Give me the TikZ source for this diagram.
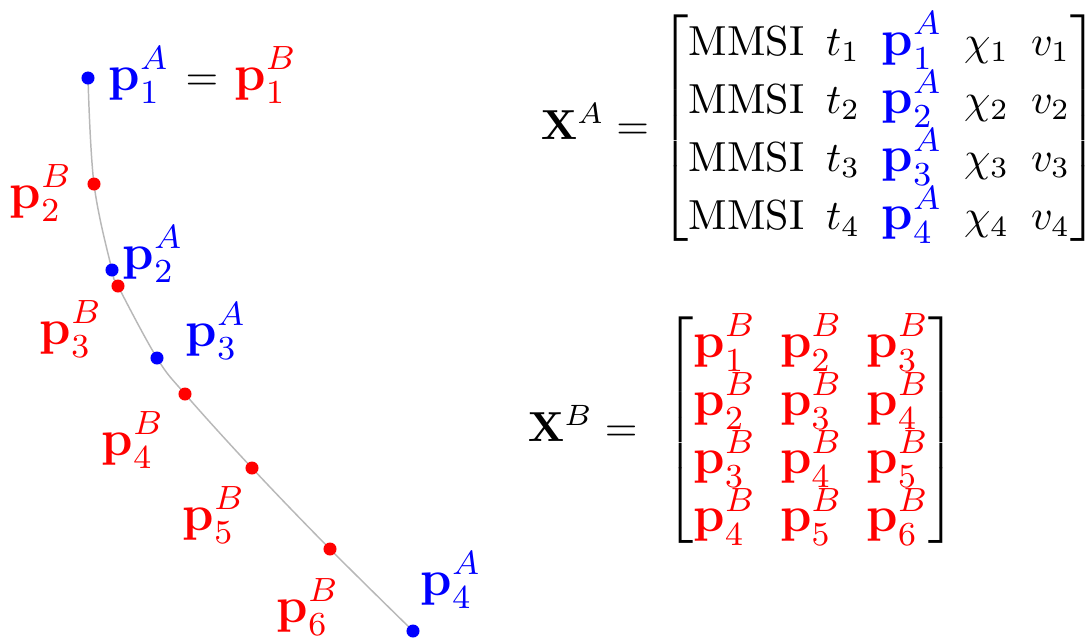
\documentclass[tikz,border=0pt]{standalone}
\usepackage{amsmath}
\AtBeginDocument{\sbox0{\fontsize{12}{14}\selectfont$\fontdimen14\textfont2=4.8pt\fontdimen17\textfont2=3.3pt$}}
\newcommand{\pA}[1]{{\color{blue}\mbox{\fontsize{12}{14}\selectfont$\mathbf{p}_{#1}^{A}$}}}
\newcommand{\pB}[1]{{\color{red}\mbox{\fontsize{12}{14}\selectfont$\mathbf{p}_{#1}^{B}$}}}
\begin{document}
\begin{tikzpicture}[x=0.2381pt,y=-0.2381pt,
  bdot/.style={circle,fill=blue,inner sep=0,minimum size=3.1pt},
  rdot/.style={circle,fill=red,inner sep=0,minimum size=3.1pt},
  lbl/.style={inner sep=0,anchor=base west},
  mat/.style={lbl,execute at begin node={\delimitershortfall=9pt}},
  track/.style={draw=black!28,line width=0.35pt}]
\useasboundingbox (0,0) rectangle (1089,642);
% track points
\coordinate (a1) at (88,78);
\coordinate (b2) at (94,184);
\coordinate (a2) at (112,270);
\coordinate (b3) at (118,286);
\coordinate (a3) at (157,358);
\coordinate (b4) at (185,394);
\coordinate (b5) at (252,468);
\coordinate (b6) at (330,549);
\coordinate (a4) at (413,631);
\draw[track] plot[smooth,tension=0.6] coordinates {(a1) (b2) (a2) (b3) (a3) (b4) (b5) (b6) (a4)};
% dots
\foreach \p in {b2,b3,b4,b5,b6} \node[rdot] (d\p) at (\p) {};
\foreach \p in {a1,a2,a3,a4} \node[bdot] (d\p) at (\p) {};
% labels
\node[lbl] (l1) at (108,90) {$\pA{1} \mskip2mu = \mskip2mu \pB{1}$};
\node[lbl] (lb2) at (9,208) {$\pB{2}$};
\node[lbl] (la2) at (122,269) {$\pA{2}$};
\node[lbl] (lb3) at (39,344) {$\pB{3}$};
\node[lbl] (la3) at (185,346) {$\pA{3}$};
\node[lbl] (lb4) at (101,455) {$\pB{4}$};
\node[lbl] (lb5) at (182,530) {$\pB{5}$};
\node[lbl] (lb6) at (276,622) {$\pB{6}$};
\node[lbl] (la4) at (420,595) {$\pA{4}$};
% matrices
\node[mat] (XA) at (540,139) {\setlength{\arraycolsep}{2.6pt}$\mathbf{X}^A = \begin{bmatrix}
\text{MMSI} & t_1 & \pA{1} & \chi_1 & v_1\\
\text{MMSI} & t_2 & \pA{2} & \chi_2 & v_2\\
\text{MMSI} & t_3 & \pA{3} & \chi_3 & v_3\\
\text{MMSI} & t_4 & \pA{4} & \chi_4 & v_4
\end{bmatrix}$};
\node[mat] (XB) at (527,441) {\setlength{\arraycolsep}{2.9pt}$\mathbf{X}^B = \mskip7mu \begin{bmatrix}
\pB{1} & \pB{2} & \pB{3}\\
\pB{2} & \pB{3} & \pB{4}\\
\pB{3} & \pB{4} & \pB{5}\\
\pB{4} & \pB{5} & \pB{6}
\end{bmatrix}$};
\end{tikzpicture}
\end{document}
